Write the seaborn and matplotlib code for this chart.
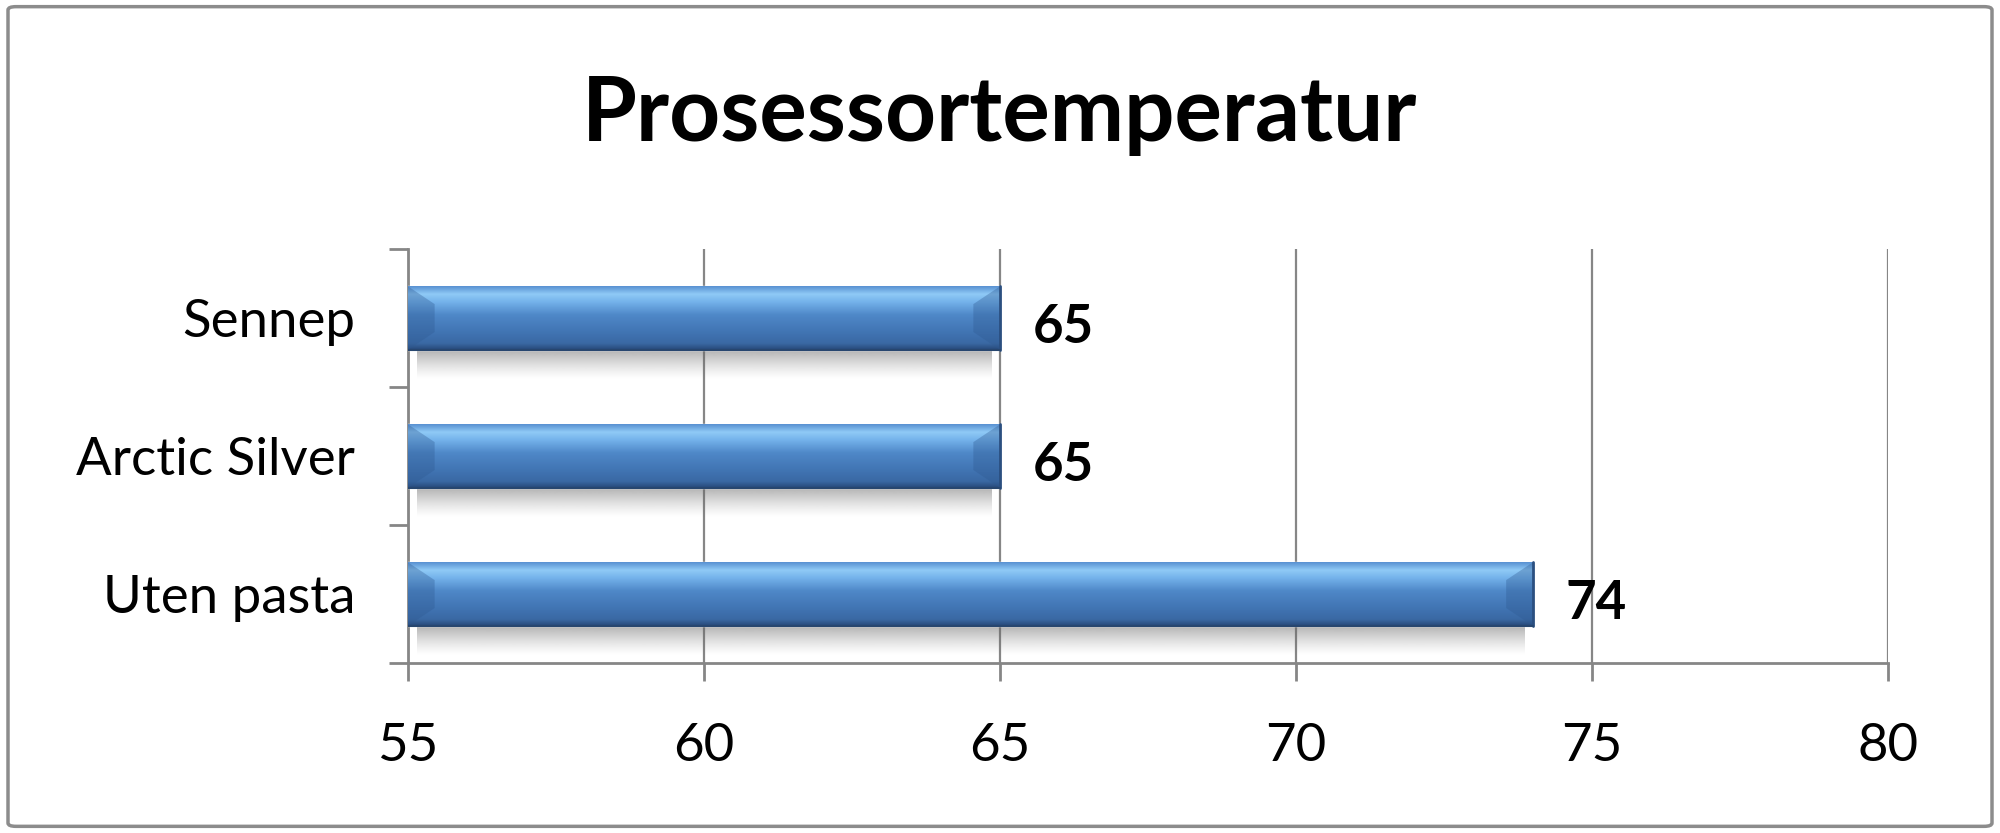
import numpy as np
import pandas as pd
import seaborn as sns
from matplotlib import pyplot as plt
from matplotlib.patches import FancyBboxPatch, Polygon
from matplotlib.colors import to_rgb

categories = ["Sennep", "Arctic Silver", "Uten pasta"]
temps = [65, 65, 74]
x_ticks = [55, 60, 65, 70, 75, 80]

df = pd.DataFrame({"kategori": categories, "temp": temps})

sns.set_theme(style="white")
plt.rcParams["font.family"] = ["Lato", "DejaVu Sans"]
plt.rcParams["text.color"] = "black"
plt.rcParams["xtick.color"] = "black"
plt.rcParams["ytick.color"] = "black"

fig = plt.figure(figsize=[20, 8.33], dpi=100)
ax = fig.add_axes([0.204, 0.204, 0.740, 0.497])

sns.barplot(data=df, x="temp", y="kategori", orient="h", ax=ax,
            width=0.46, color="#4a7ebb", zorder=3)

# gradient fill on top of each bar, plus a soft shadow below it
stops = ["#5b93d3", "#8fcaf6", "#73b1ea", "#4f88c8", "#4276b5", "#3a69a4", "#27497a"]
pos = [0.0, 0.12, 0.25, 0.45, 0.7, 0.9, 1.0]
t = np.linspace(0, 1, 64)
cols = np.array([to_rgb(c) for c in stops])
grad = np.stack([np.interp(t, pos, cols[:, k]) for k in range(3)], axis=-1)[:, None, :]
shadow = np.zeros((32, 1, 4))
shadow[:, 0, :3] = 0.4
shadow[:, 0, 3] = np.linspace(0.6, 0.0, 32) ** 1.3

for p in ax.patches:
    x0 = max(p.get_x(), 55)
    x1 = p.get_x() + p.get_width()
    y0 = p.get_y()
    h = p.get_height()
    ax.imshow(grad, extent=(x0, x1, y0 + h, y0), aspect="auto",
              interpolation="bilinear", zorder=4)
    ax.imshow(shadow, extent=(x0 + 0.15, x1 - 0.15, y0 + h + 0.22, y0 + h),
              aspect="auto", interpolation="bilinear", zorder=2)
    # bevelled ends
    bx = 0.45
    by = h * 0.28
    for pts in ([(x0, y0), (x0 + bx, y0 + by), (x0 + bx, y0 + h - by), (x0, y0 + h)],
                [(x1, y0), (x1 - bx, y0 + by), (x1 - bx, y0 + h - by), (x1, y0 + h)]):
        ax.add_patch(Polygon(pts, closed=True, fc="#2f5a92", ec="none",
                             alpha=0.35, zorder=5))
    ax.plot([x1, x1], [y0, y0 + h], color="#2b4f80", lw=2, zorder=6)
    ax.plot([x0, x1], [y0 + h, y0 + h], color="#27466f", lw=1.5, zorder=6)
    ax.text(x1 + 0.55, y0 + h / 2 + 0.07, f"{int(x1)}",
            fontsize=38, fontweight="bold", va="center", ha="left", color="black")

ax.set_xlim(55, 80)
ax.set_ylim(2.5, -0.5)
ax.set_xticks(x_ticks)
ax.set_xticklabels([str(v) for v in x_ticks])
ax.set_yticks(range(len(categories)))
ax.set_yticklabels(categories)
ax.set_yticks([-0.5, 0.5, 1.5, 2.5], minor=True)
ax.set_xlabel("")
ax.set_ylabel("")

grey = "#868686"
ax.grid(axis="x", color=grey, lw=1.6, zorder=1)
ax.set_axisbelow(True)
for s in ["top", "right"]:
    ax.spines[s].set_visible(False)
for s in ["left", "bottom"]:
    ax.spines[s].set_color(grey)
    ax.spines[s].set_linewidth(2)

ax.tick_params(axis="y", which="major", length=0, pad=38, labelsize=38)
ax.tick_params(axis="y", which="minor", left=True, length=14, width=2, color=grey)
ax.tick_params(axis="x", which="major", bottom=True, length=13, width=2, color=grey,
               pad=30, labelsize=38)

fig.text(0.5, 0.862, "Prosessortemperatur", ha="center", va="center",
         fontsize=64, fontweight="bold")

frame = FancyBboxPatch((0.004, 0.008), 0.992, 0.984, transform=fig.transFigure,
                       boxstyle="round,pad=0,rounding_size=0.004",
                       fc="none", ec="#8c8c8c", lw=2.5)
fig.patches.append(frame)

fig.savefig("out.png", dpi=100, facecolor="white")
